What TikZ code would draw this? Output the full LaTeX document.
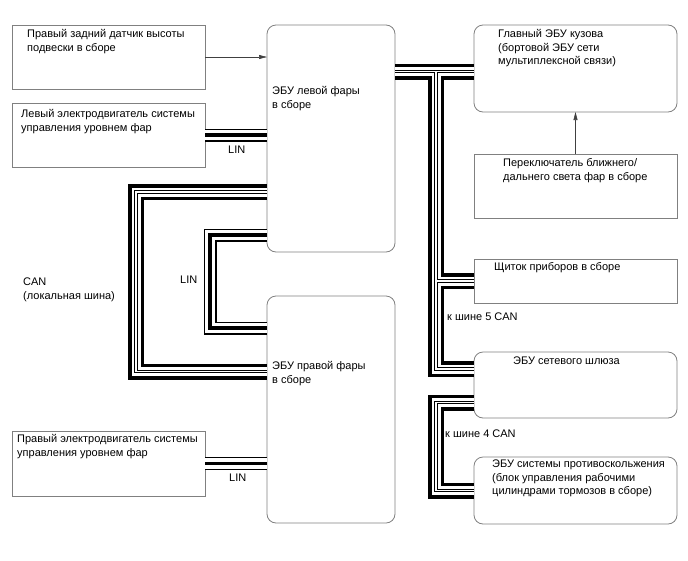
\documentclass[tikz,border=0pt]{standalone}
\usepackage{fontspec}
\setmainfont{Liberation Sans}
\usetikzlibrary{arrows.meta,calc}
\begin{document}
\begin{tikzpicture}[x=1pt,y=-1pt,
  box/.style={draw=black!50,line width=0.8pt,anchor=north west,inner sep=0pt,outer sep=0pt},
  rbox/.style={box,rounded corners=9pt},
  txt/.style={anchor=base west,inner sep=0pt,align=left,font=\fontsize{11}{13.5}\selectfont},
  arr/.style={draw=black!75,line width=0.6pt,-{Triangle[length=8pt,width=4pt]}},
]
\useasboundingbox (0,0) rectangle (688,560);

% boxes
\node[box,minimum width=193pt,minimum height=64pt] (sensor) at (12,25) {};
\node[box,minimum width=193pt,minimum height=64pt] (lmotor) at (12,103) {};
\node[box,minimum width=193pt,minimum height=65pt] (rmotor) at (12,431) {};
\node[rbox,minimum width=128pt,minimum height=227pt] (lecu) at (267,25) {};
\node[rbox,minimum width=128pt,minimum height=227pt] (recu) at (267,296) {};
\node[rbox,minimum width=203pt,minimum height=87pt] (main) at (474,25) {};
\node[box,minimum width=203pt,minimum height=64pt] (switch) at (474,154) {};
\node[box,minimum width=203pt,minimum height=44pt] (dash) at (474,259) {};
\node[rbox,minimum width=203pt,minimum height=66pt] (gw) at (474,352) {};
\node[rbox,minimum width=203pt,minimum height=67pt] (abs) at (474,457) {};

% texts (base = baseline of the last line)
\node[txt] (tsensor) at (27,51) {Правый задний датчик высоты\\подвески в сборе};
\node[txt] (tlmotor) at (21,131) {Левый электродвигатель системы\\управления уровнем фар};
\node[txt] (trmotor) at (17,456) {Правый электродвигатель системы\\управления уровнем фар};
\node[txt] (tlecu) at (272,108) {ЭБУ левой фары\\в сборе};
\node[txt] (trecu) at (272,383) {ЭБУ правой фары\\в сборе};
\node[txt] (tmain) at (498,64.5) {Главный ЭБУ кузова\\(бортовой ЭБУ сети\\мультиплексной связи)};
\node[txt] (tswitch) at (503,180) {Переключатель ближнего/\\дальнего света фар в сборе};
\node[txt] (tdash) at (494,270.5) {Щиток приборов в сборе};
\node[txt] (tgw) at (513,364.5) {ЭБУ сетевого шлюза};
\node[txt] (tabs) at (492,494.5) {ЭБУ системы противоскольжения\\(блок управления рабочими\\цилиндрами тормозов в сборе)};
\node[txt] (tcan) at (23,299) {CAN\\(локальная шина)};
\node[txt] (tlin1) at (228,153) {LIN};
\node[txt] (tlin2) at (180,283.5) {LIN};
\node[txt] (tlin3) at (229,481) {LIN};
\node[txt] (tcan5) at (447,320.5) {к шине 5 CAN};
\node[txt] (tcan4) at (445,437) {к шине 4 CAN};

% arrows
\draw[arr] (sensor.east) -- (sensor.east -| lecu.west);
\draw[arr] (switch.north) -- (main.south);

% bus bend points
\coordinate (canL1) at (136,192);
\coordinate (canL2) at (136,371.5);
\coordinate (linA) at (210,235);
\coordinate (linB) at (210,328);
\coordinate (jT) at (436,71.5);
\coordinate (jB) at (436,369);
\coordinate (jC) at (436,402.5);

% CAN buses (layered)
\foreach \w/\c in {16/black,9/white,3.4/black,1.2/white}{
  \draw[line width=\w pt,draw=\c] (lecu.west |- canL1) -- (canL1) -- (canL2) -- (recu.west |- canL2);
  \draw[line width=\w pt,draw=\c] (lecu.east |- jT) -- (main.west |- jT);
  \draw[line width=\w pt,draw=\c] (jT) -- (jB) -- (gw.west |- jB);
  \draw[line width=\w pt,draw=\c] (dash.west -| jT) -- (dash.west);
  \draw[line width=\w pt,draw=\c] (gw.west |- jC) -- (jC) -- (jC |- abs.west) -- (abs.west);
}
% LIN buses (layered)
\foreach \w/\c in {13/black,10.6/white,3.6/black}{
  \draw[line width=\w pt,draw=\c] (lmotor.east) -- (lmotor.east -| lecu.west);
  \draw[line width=\w pt,draw=\c] (lecu.west |- linA) -- (linA) -- (linB) -- (recu.west |- linB);
  \draw[line width=\w pt,draw=\c] (rmotor.east) -- (rmotor.east -| recu.west);
}
\end{tikzpicture}
\end{document}
